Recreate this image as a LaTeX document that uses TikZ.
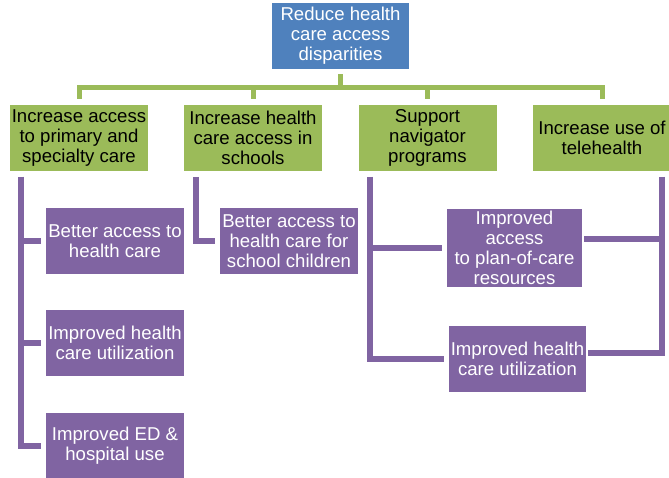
\documentclass[tikz,border=0pt]{standalone}
\usepackage{fontspec}
\setmainfont{Liberation Sans}
\usetikzlibrary{calc}
\definecolor{goalblue}{HTML}{4F81BD}
\definecolor{stratgreen}{HTML}{9BBB59}
\definecolor{outpurple}{HTML}{8064A2}
\tikzset{
  box/.style={inner sep=0pt, align=center, font=\fontsize{18.6}{20}\selectfont, minimum height=66pt},
  goal/.style={box, fill=goalblue, text=white, minimum width=137pt},
  strategy/.style={box, fill=stratgreen, text=black, minimum width=138pt},
  outcome/.style={box, fill=outpurple, text=white, minimum width=138pt},
  greenlink/.style={draw=stratgreen, line width=5pt, shorten <=5pt, shorten >=6pt},
  purplelink/.style={draw=outpurple, line width=5.5pt, shorten >=5pt}
}

\begin{document}
\begin{tikzpicture}[x=1pt,y=-1pt]
\useasboundingbox (0,0) rectangle (669,478);
\node[goal] (goal) at (340.5,36) {Reduce health\\care access\\disparities};
% strategies
\node[strategy] (s1) at (79,138) {Increase access\\to primary and\\specialty care};
\node[strategy] (s2) at (253,138) {Increase health\\care access in\\schools};
\node[strategy] (s3) at (427.5,138) {Support\\navigator\\programs};
\node[strategy] (s4) at (602,138) {Increase use of\\telehealth};
\foreach \s in {s1,s2,s3,s4}
  \draw[greenlink] (goal.south) -- ++(0,18) -| (\s.north);
% outcomes
\node[outcome] (o11) at (115,241) {Better access to\\health care};
\node[outcome] (o12) at (115,343) {Improved health\\care utilization};
\node[outcome] (o13) at (115,446) {Improved ED \&\\hospital use};
\node[outcome] (o21) at (289,241) {Better access to\\health care for\\school children};
\node[outcome, minimum width=135pt, minimum height=78pt] (o31) at (514.5,248) {Improved\\access\\to plan-of-care\\resources};
\node[outcome, minimum width=137pt] (o32) at (517.5,359) {Improved health\\care utilization};
\coordinate (c1) at (21,177);
\coordinate (c2) at (196,177);
\coordinate (c3) at (370,177);
\coordinate (c4) at (662,177);
\foreach \o in {o11,o12,o13}
  \draw[purplelink] (c1) |- (\o.west);
\draw[purplelink] (c2) |- (o21.west);
\draw[purplelink] (c3) |- (o31.west);
\draw[purplelink] (c3) |- (o32.west);
\draw[purplelink, shorten >=2pt] (c4) |- ([yshift=9pt]o31.east);
\draw[purplelink, shorten >=2pt] (c4) |- ([yshift=6pt]o32.east);
\end{tikzpicture}
\end{document}
